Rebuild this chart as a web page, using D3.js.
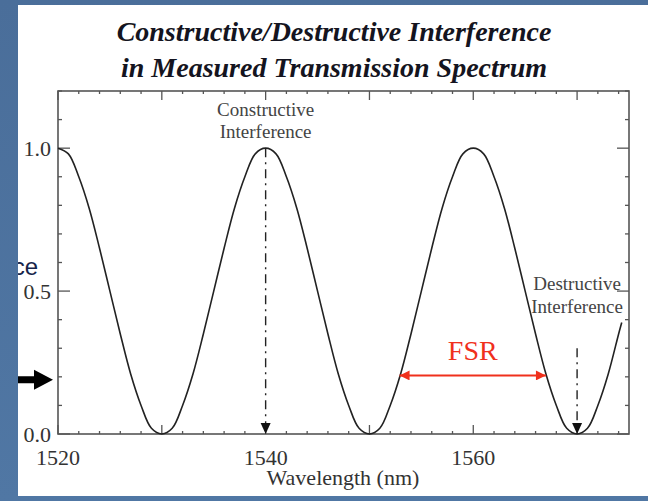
<script src="https://d3js.org/d3.v7.min.js"></script>
<html>
<head>
<style>
  body { margin: 0; background: #4b709c; }
  svg { display: block; }
</style>
</head>
<body>
<div id="myPlot"></div>
</body>
<script>
    const W = 648;
    const H = 501;

    // measured spectrum (nm, normalised transmission)
    const wavelength = [1520,1521,1522,1523,1524,1525,1526,1527,1528,1529,
        1530,1531,1532,1533,1534,1535,1536,1537,1538,1539,
        1540,1541,1542,1543,1544,1545,1546,1547,1548,1549,
        1550,1551,1552,1553,1554,1555,1556,1557,1558,1559,
        1560,1561,1562,1563,1564,1565,1566,1567,1568,1569,
        1570,1571,1572,1573,1574,1574.3];
    const transmission = [1.00,0.98,0.90,0.79,0.65,0.50,0.35,0.21,0.10,0.02,
        0.00,0.02,0.10,0.21,0.35,0.50,0.65,0.79,0.90,0.98,
        1.00,0.98,0.90,0.79,0.65,0.50,0.35,0.21,0.10,0.02,
        0.00,0.02,0.10,0.21,0.35,0.50,0.65,0.79,0.90,0.98,
        1.00,0.98,0.90,0.79,0.65,0.50,0.35,0.21,0.10,0.02,
        0.00,0.02,0.10,0.21,0.35,0.39];

    const xTicks = [1520, 1540, 1560];
    const yTicks = [0.0, 0.5, 1.0];
    const titleLines = ["Constructive/Destructive Interference", "in Measured Transmission Spectrum"];

    // annotations
    const constructive = {x: 1540, from: 1.0, label: ["Constructive", "Interference"]};
    const destructive = {x: 1570, from: 0.30, label: ["Destructive", "Interference"]};
    const fsr = {x0: 1552.9, x1: 1567.0, y: 0.205, label: "FSR"};
    const sideArrowLevel = 0.19;

    const plot = {left: 58, right: 629, top: 91, bottom: 434};

    const x = d3.scaleLinear().domain([1520, 1575]).range([plot.left, plot.right]);
    const y = d3.scaleLinear().domain([0, 1.2]).range([plot.bottom, plot.top]);

    const svg = d3.select("#myPlot").append("svg")
        .attr("width", W).attr("height", H);

    const defs = svg.append("defs");
    const grad = defs.append("linearGradient").attr("id", "bg")
        .attr("x1", 0).attr("y1", 0).attr("x2", 0).attr("y2", 1);
    grad.append("stop").attr("offset", 0).attr("stop-color", "#4a6e9a");
    grad.append("stop").attr("offset", 1).attr("stop-color", "#5077a4");
    defs.append("clipPath").attr("id", "panel")
        .append("rect").attr("x", 18).attr("y", 5).attr("width", W - 18).attr("height", 491);
    defs.append("marker").attr("id", "redHead")
        .attr("viewBox", "0 0 10 10").attr("refX", 10).attr("refY", 5)
        .attr("markerWidth", 13).attr("markerHeight", 10).attr("markerUnits", "userSpaceOnUse")
        .attr("orient", "auto-start-reverse")
        .append("path").attr("d", "M0,0L10,5L0,10z").attr("fill", "#f0301c");

    svg.append("rect").attr("width", W).attr("height", H).attr("fill", "url(#bg)");
    svg.append("rect").attr("x", 18).attr("y", 5).attr("width", W - 18).attr("height", 491).attr("fill", "#fff");

    const g = svg.append("g").attr("clip-path", "url(#panel)");
    const serif = "'Liberation Serif', 'DejaVu Serif', serif";

    // title
    g.selectAll(".title").data(titleLines).enter().append("text")
        .attr("x", 334).attr("y", (d, i) => 41 + i * 36)
        .attr("text-anchor", "middle")
        .style("font-family", serif).style("font-size", "28px")
        .style("font-weight", "bold").style("font-style", "italic")
        .attr("fill", "#141420")
        .text(d => d);

    // ticks (inward, all four sides)
    const minorX = d3.range(1520, 1576, 2);
    const majorX = d3.range(1520, 1576, 10);
    const minorY = d3.range(0, 1.21, 0.1);
    const tickCol = "#555";

    [plot.bottom, plot.top].forEach((yy, side) => {
        const dir = side === 0 ? -1 : 1;
        g.append("g").selectAll("line").data(minorX).enter().append("line")
            .attr("x1", d => x(d)).attr("x2", d => x(d))
            .attr("y1", yy).attr("y2", d => yy + dir * (majorX.includes(d) ? 9 : 3))
            .attr("stroke", tickCol).attr("stroke-width", 1.3);
    });
    [plot.left, plot.right].forEach((xx, side) => {
        const dir = side === 0 ? 1 : -1;
        g.append("g").selectAll("line").data(minorY).enter().append("line")
            .attr("y1", d => y(d)).attr("y2", d => y(d))
            .attr("x1", xx).attr("x2", (d, i) => xx + dir * (i % 5 === 0 ? 12 : 4))
            .attr("stroke", tickCol).attr("stroke-width", 1.3);
    });

    // frame
    g.append("rect")
        .attr("x", plot.left).attr("y", plot.top)
        .attr("width", plot.right - plot.left).attr("height", plot.bottom - plot.top)
        .attr("fill", "none").attr("stroke", "#555").attr("stroke-width", 1.6);

    // tick labels
    g.selectAll(".xl").data(xTicks).enter().append("text")
        .attr("x", d => x(d)).attr("y", 465)
        .attr("text-anchor", "middle")
        .style("font-family", serif).style("font-size", "22px")
        .attr("fill", "#333").text(d => d);
    g.selectAll(".yl").data(yTicks).enter().append("text")
        .attr("x", plot.left - 7).attr("y", d => y(d) + 8)
        .attr("text-anchor", "end")
        .style("font-family", serif).style("font-size", "22px")
        .attr("fill", "#333").text(d => d.toFixed(1));

    g.append("text")
        .attr("x", 343).attr("y", 485).attr("text-anchor", "middle")
        .style("font-family", serif).style("font-size", "22px")
        .attr("fill", "#333").text("Wavelength (nm)");

    // y label, mostly hidden under the slide border
    g.append("text")
        .attr("x", 38).attr("y", 275).attr("text-anchor", "end")
        .style("font-family", "'Liberation Sans', Arial, sans-serif").style("font-size", "24px")
        .attr("fill", "#16244a").text("Transmittance");

    // black pointer arrow at left
    const ay = y(sideArrowLevel);
    g.append("path")
        .attr("d", `M18,${ay - 3.5}L34,${ay - 3.5}L34,${ay - 10}L53,${ay}L34,${ay + 10}L34,${ay + 3.5}L18,${ay + 3.5}Z`)
        .attr("fill", "#000");

    // spectrum
    const pts = wavelength.map((w, i) => [w, transmission[i]]);
    g.append("path").datum(pts)
        .attr("d", d3.line().x(d => x(d[0])).y(d => y(d[1])).curve(d3.curveCatmullRom))
        .attr("fill", "none").attr("stroke", "#222").attr("stroke-width", 1.6);

    // dash-dot pointers
    [constructive, destructive].forEach(a => {
        const px = x(a.x);
        g.append("line")
            .attr("x1", px).attr("x2", px)
            .attr("y1", y(a.from)).attr("y2", y(0) - 10)
            .attr("stroke", "#222").attr("stroke-width", 1.4)
            .attr("stroke-dasharray", "9,5,2,5");
        g.append("path")
            .attr("d", `M${px - 5},${y(0) - 11}L${px + 5},${y(0) - 11}L${px},${y(0)}Z`)
            .attr("fill", "#111");
    });

    g.selectAll(".cl").data(constructive.label).enter().append("text")
        .attr("x", x(constructive.x)).attr("y", (d, i) => y(1.0) - 32 + i * 22)
        .attr("text-anchor", "middle")
        .style("font-family", serif).style("font-size", "19px")
        .attr("fill", "#444").text(d => d);
    g.selectAll(".dl").data(destructive.label).enter().append("text")
        .attr("x", x(destructive.x)).attr("y", (d, i) => y(destructive.from) - 58 + i * 23)
        .attr("text-anchor", "middle")
        .style("font-family", serif).style("font-size", "19px")
        .attr("fill", "#444").text(d => d);

    // FSR
    g.append("line")
        .attr("x1", x(fsr.x0)).attr("x2", x(fsr.x1))
        .attr("y1", y(fsr.y)).attr("y2", y(fsr.y))
        .attr("stroke", "#f0301c").attr("stroke-width", 2)
        .attr("marker-start", "url(#redHead)").attr("marker-end", "url(#redHead)");
    g.append("text")
        .attr("x", x((fsr.x0 + fsr.x1) / 2)).attr("y", y(fsr.y) - 15)
        .attr("text-anchor", "middle")
        .style("font-family", serif).style("font-size", "28px")
        .attr("fill", "#f0301c").text(fsr.label);
</script>
</html>
